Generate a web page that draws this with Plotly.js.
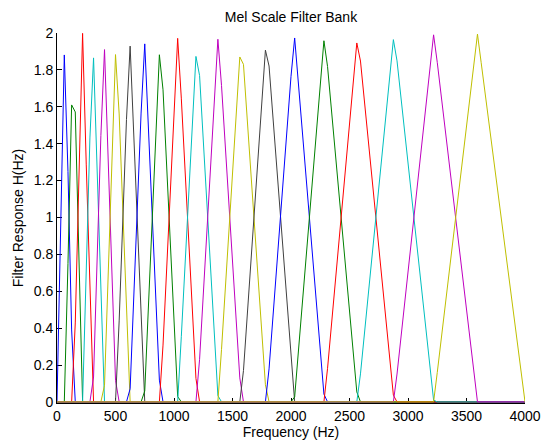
<!DOCTYPE html>
<html>
<head>
<meta charset="utf-8">
<script src="https://cdn.plot.ly/plotly-3.0.1.min.js"></script>
<style>html,body{margin:0;padding:0;background:#fff;}#chart{width:543px;height:440px;}</style>
</head>
<body>
<div id="chart"></div>
<script>
// Filter bank responses (frequency in Hz, response H)
const bandHz1 = [0,31.25,62.5,93.75,125,156.25,4000];
const bandH1  = [0,0.941,1.881,1.249,0.390,0,0];
const bandHz2 = [0,62.5,93.75,125,156.25,187.5,218.75,250,4000];
const bandH2  = [0,0,0.751,1.610,1.572,0.787,0.002,0,0];
const bandHz3 = [0,125,156.25,187.5,218.75,250,281.25,312.5,4000];
const bandH3  = [0,0,0.428,1.213,1.998,1.285,0.569,0,0];
const bandHz4 = [0,218.75,250,281.25,312.5,343.75,375,406.25,4000];
const bandH4  = [0,0,0.715,1.431,1.865,1.210,0.556,0,0];
const bandHz5 = [0,281.25,312.5,343.75,375,406.25,437.5,468.75,500,531.25,4000];
const bandH5  = [0,0,0.135,0.790,1.444,1.910,1.312,0.714,0.117,0,0];
const bandHz6 = [0,375,406.25,437.5,468.75,500,531.25,562.5,593.75,625,4000];
const bandH6  = [0,0,0.090,0.688,1.286,1.883,1.561,1.015,0.469,0,0];
const bandHz7 = [0,500,531.25,562.5,593.75,625,656.25,687.5,718.75,750,4000];
const bandH7  = [0,0,0.439,0.985,1.531,1.929,1.431,0.932,0.434,0,0];
const bandHz8 = [0,593.75,625,656.25,687.5,718.75,750,781.25,812.5,843.75,875,906.25,4000];
const bandH8  = [0,0,0.071,0.569,1.068,1.566,1.941,1.485,1.029,0.574,0.118,0,0];
const bandHz9 = [0,718.75,750,781.25,812.5,843.75,875,906.25,937.5,968.75,1000,1031.25,1062.5,4000];
const bandH9  = [0,0,0.059,0.515,0.971,1.426,1.882,1.692,1.276,0.861,0.445,0.029,0,0];
const bandHz10 = [0,875,906.25,937.5,968.75,1000,1031.25,1062.5,1093.75,1125,1156.25,1187.5,1218.75,4000];
const bandH10  = [0,0,0.308,0.724,1.139,1.555,1.971,1.647,1.267,0.887,0.507,0.127,0,0];
const bandHz11 = [0,1031.25,1062.5,1093.75,1125,1156.25,1187.5,1218.75,1250,1281.25,1312.5,1343.75,1375,1406.25,4000];
const bandH11  = [0,0,0.353,0.733,1.113,1.493,1.873,1.769,1.422,1.075,0.728,0.381,0.034,0,0];
const bandHz12 = [0,1187.5,1218.75,1250,1281.25,1312.5,1343.75,1375,1406.25,1437.5,1468.75,1500,1531.25,1562.5,1593.75,4000];
const bandH12  = [0,0,0.231,0.578,0.925,1.272,1.619,1.966,1.715,1.398,1.081,0.764,0.447,0.130,0,0];
const bandHz13 = [0,1375,1406.25,1437.5,1468.75,1500,1531.25,1562.5,1593.75,1625,1656.25,1687.5,1718.75,1750,1781.25,1812.5,4000];
const bandH13  = [0,0,0.285,0.602,0.919,1.236,1.553,1.870,1.830,1.540,1.251,0.961,0.672,0.383,0.093,0,0];
const bandHz14 = [0,1562.5,1593.75,1625,1656.25,1687.5,1718.75,1750,1781.25,1812.5,1843.75,1875,1906.25,1937.5,1968.75,2000,2031.25,4000];
const bandH14  = [0,0,0.170,0.460,0.749,1.039,1.328,1.617,1.907,1.821,1.557,1.292,1.028,0.764,0.499,0.235,0,0];
const bandHz15 = [0,1781.25,1812.5,1843.75,1875,1906.25,1937.5,1968.75,2000,2031.25,2062.5,2093.75,2125,2156.25,2187.5,2218.75,2250,2281.25,2312.5,4000];
const bandH15  = [0,0,0.179,0.443,0.708,0.972,1.236,1.501,1.765,1.973,1.732,1.490,1.249,1.008,0.766,0.525,0.283,0.042,0,0];
const bandHz16 = [0,2000,2031.25,2062.5,2093.75,2125,2156.25,2187.5,2218.75,2250,2281.25,2312.5,2343.75,2375,2406.25,2437.5,2468.75,2500,2531.25,2562.5,2593.75,4000];
const bandH16  = [0,0,0.027,0.268,0.510,0.751,0.992,1.234,1.475,1.717,1.958,1.818,1.597,1.377,1.157,0.936,0.716,0.495,0.275,0.054,0,0];
const bandHz17 = [0,2281.25,2312.5,2343.75,2375,2406.25,2437.5,2468.75,2500,2531.25,2562.5,2593.75,2625,2656.25,2687.5,2718.75,2750,2781.25,2812.5,2843.75,2875,2906.25,4000];
const bandH17  = [0,0,0.182,0.402,0.623,0.843,1.064,1.284,1.505,1.725,1.946,1.848,1.647,1.445,1.244,1.043,0.841,0.640,0.439,0.237,0.036,0,0];
const bandHz18 = [0,2562.5,2593.75,2625,2656.25,2687.5,2718.75,2750,2781.25,2812.5,2843.75,2875,2906.25,2937.5,2968.75,3000,3031.25,3062.5,3093.75,3125,3156.25,3187.5,3218.75,3250,4000];
const bandH18  = [0,0,0.152,0.353,0.555,0.756,0.957,1.159,1.360,1.561,1.763,1.964,1.849,1.665,1.481,1.297,1.113,0.929,0.745,0.562,0.378,0.194,0.010,0,0];
const bandHz19 = [0,2875,2906.25,2937.5,2968.75,3000,3031.25,3062.5,3093.75,3125,3156.25,3187.5,3218.75,3250,3281.25,3312.5,3343.75,3375,3406.25,3437.5,3468.75,3500,3531.25,3562.5,3593.75,4000];
const bandH19  = [0,0,0.151,0.335,0.519,0.703,0.887,1.071,1.254,1.438,1.622,1.806,1.990,1.841,1.673,1.505,1.337,1.169,1.001,0.833,0.665,0.497,0.329,0.162,0,0];
const bandHz20 = [0,3218.75,3250,3281.25,3312.5,3343.75,3375,3406.25,3437.5,3468.75,3500,3531.25,3562.5,3593.75,3625,3656.25,3687.5,3718.75,3750,3781.25,3812.5,3843.75,3875,3906.25,3937.5,3968.75,4000];
const bandH20  = [0,0,0.159,0.327,0.495,0.663,0.831,0.999,1.167,1.335,1.503,1.671,1.839,1.994,1.841,1.687,1.534,1.381,1.227,1.074,0.920,0.767,0.614,0.460,0.307,0.153,0];

const xTickVals = [0,500,1000,1500,2000,2500,3000,3500,4000];
const xTickText = ['0','500','1000','1500','2000','2500','3000','3500','4000'];
const yTickVals = [0,0.2,0.4,0.6,0.8,1,1.2,1.4,1.6,1.8,2];
const yTickText = ['0','0.2','0.4','0.6','0.8','1','1.2','1.4','1.6','1.8','2'];

const lineColors = ['#0000ff','#008000','#ff0000','#00bfbf','#bf00bf','#bfbf00','#404040'];

const bandsHz = [bandHz1,bandHz2,bandHz3,bandHz4,bandHz5,bandHz6,bandHz7,bandHz8,bandHz9,bandHz10,
                 bandHz11,bandHz12,bandHz13,bandHz14,bandHz15,bandHz16,bandHz17,bandHz18,bandHz19,bandHz20];
const bandsH = [bandH1,bandH2,bandH3,bandH4,bandH5,bandH6,bandH7,bandH8,bandH9,bandH10,
                bandH11,bandH12,bandH13,bandH14,bandH15,bandH16,bandH17,bandH18,bandH19,bandH20];

const FONT = 'Liberation Sans, Arial, Helvetica, sans-serif';

const traces = bandsHz.map((hz, i) => ({
  type: 'scatter',
  mode: 'lines',
  x: hz,
  y: bandsH[i],
  line: {color: lineColors[i % lineColors.length], width: 1},
  hoverinfo: 'skip',
  showlegend: false
}));

const layout = {
  width: 543,
  height: 440,
  paper_bgcolor: '#ffffff',
  plot_bgcolor: '#ffffff',
  margin: {l: 57, r: 18, t: 33, b: 37, pad: 0},
  showlegend: false,
  font: {family: FONT, size: 14, color: '#000'},
  title: {
    text: 'Mel Scale Filter Bank',
    font: {family: FONT, size: 14, color: '#000'},
    xref: 'paper', x: 0.5, xanchor: 'center',
    yref: 'container', y: 1 - 17.5 / 440, yanchor: 'middle'
  },
  xaxis: {
    range: [0, 4000],
    tickmode: 'array', tickvals: xTickVals, ticktext: xTickText,
    ticks: 'inside', ticklen: 5, tickwidth: 1, tickcolor: '#000',
    showline: true, linecolor: '#000', linewidth: 1, mirror: false,
    showgrid: false, zeroline: false, layer: 'below traces',
    tickfont: {family: FONT, size: 14, color: '#000'},
    title: {text: 'Frequency (Hz)', font: {family: FONT, size: 14, color: '#000'}, standoff: 6}
  },
  yaxis: {
    range: [-0.006, 2],
    tickmode: 'array', tickvals: yTickVals, ticktext: yTickText,
    ticks: 'inside', ticklen: 5, tickwidth: 1, tickcolor: '#000',
    showline: true, linecolor: '#000', linewidth: 1, mirror: false,
    showgrid: false, zeroline: false, layer: 'below traces',
    tickfont: {family: FONT, size: 14, color: '#000'},
    title: {text: 'Filter Response H(Hz)', font: {family: FONT, size: 14, color: '#000'}, standoff: 6}
  }
};

Plotly.newPlot('chart', traces, layout, {displayModeBar: false, staticPlot: true});
</script>
</body>
</html>
